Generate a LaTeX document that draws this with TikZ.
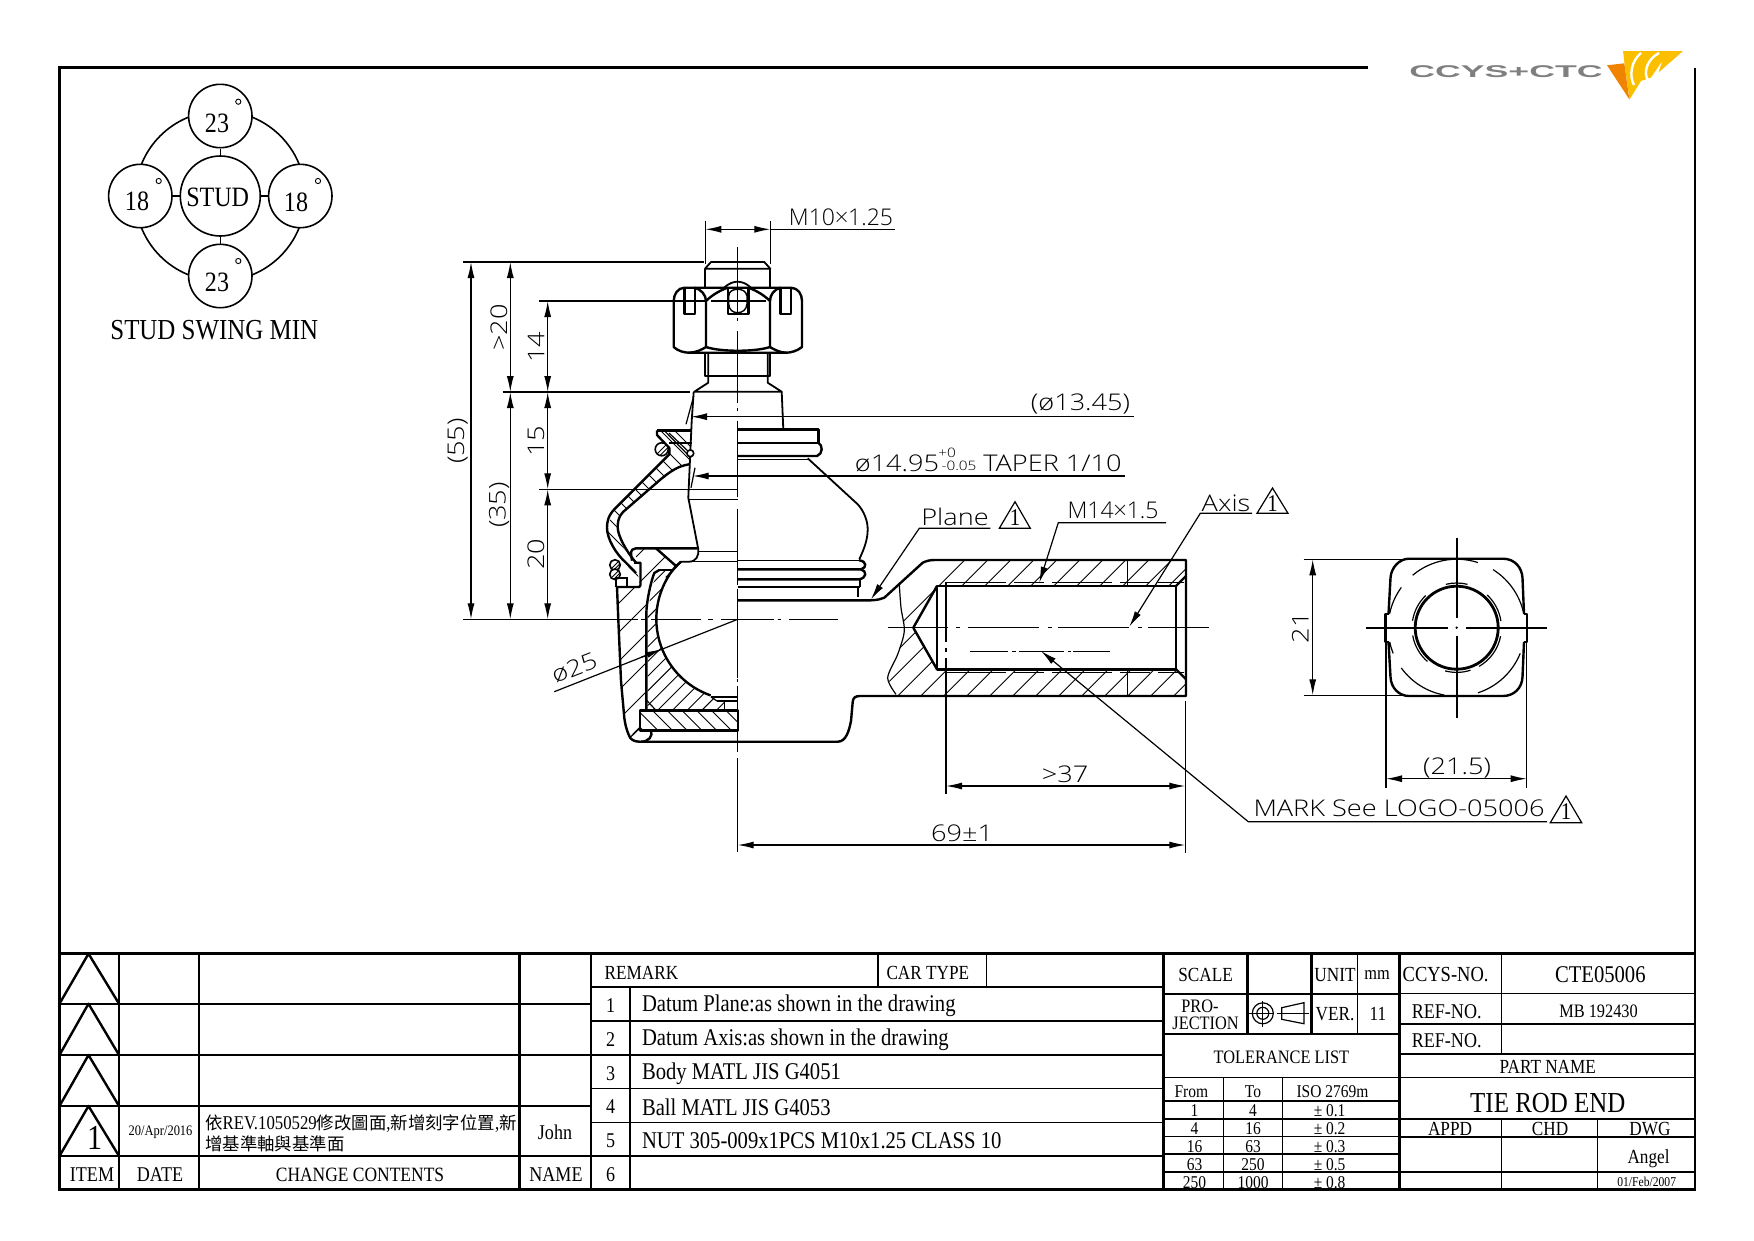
\documentclass[tikz,border=0pt]{standalone}
\usepackage{fontspec}
\usepackage{tikz}
\usetikzlibrary{
    arrows.meta,
    positioning
}
\setmainfont[FakeStretch=0.86]{Liberation Serif}
\newfontfamily\cjk{Noto Sans CJK TC}
\newfontfamily\cadfont[FakeStretch=1.18]{Open Sans Light}
\newfontfamily\cadplain{Open Sans Light}
\newfontfamily\logofont[FakeStretch=2.1]{Liberation Sans}
\newcommand{\zh}[1]{{\cjk\fontsize{17.4}{17.4}\selectfont #1}}
\definecolor{logogray}{HTML}{7F7F7F}
\definecolor{logoorange}{HTML}{F08300}
\definecolor{logoyellow}{HTML}{FBBF00}
\tikzstyle{heavy} = [line width=2.4pt, line join=round]
\tikzstyle{fine} = [line width=1.2pt]
\tikzstyle{hatch} = [line width=0.9pt]
\tikzstyle{dimline} = [
    line width=1.2pt,
    {Latex[length=16pt,width=7pt]}-{Latex[length=16pt,width=7pt]}
]
\tikzstyle{leader} = [
    line width=1.2pt,
    {Latex[length=16pt,width=7pt]}-
]

\begin{document}
\begin{tikzpicture}[
    x=1pt, y=-1pt,
    txt/.style={font=\fontsize{#1}{#1}\selectfont, inner sep=0pt},
    cad/.style={font=\cadfont\fontsize{#1}{#1}\selectfont, inner sep=0pt},
    cadn/.style={font=\cadplain\fontsize{#1}{#1}\selectfont, inner sep=0pt},
    swing/.style={circle, draw, fill=white, line width=1.6pt, inner sep=0pt, minimum size=#1}
]
\useasboundingbox (0,0) rectangle (1754,1240);
\begin{scope}[shift={(1,1)}]

% Frame
\draw[line width=2.8pt] (1367,66.7) -- (58.5,66.7) -- (58.5,1188.5) -- (1694,1188.5) -- (1694,66.7);

% Logo
\node[font=\logofont\bfseries\fontsize{17}{17}\selectfont, text=logogray, inner sep=0pt] (logotext) at (1505,70.5) {CCYS+CTC};
\fill[logoyellow] (1622,50) -- (1682,50) -- (1657.5,71.5) -- (1661.5,59.5) -- (1650,76.5) -- (1640,80) -- (1628.5,98.5) -- (1623.5,62.5) -- cycle;
\fill[logoorange] (1606,64.3) -- (1623.3,62.3) -- (1628.3,98.3) -- cycle;
\draw[white, line width=2.4pt] (1640,52) .. controls (1630,60) and (1628,75) .. (1633,84);
\draw[white, line width=2.4pt] (1658,52) .. controls (1646,58) and (1642,72) .. (1647,79);

% Stud swing
\draw[line width=1.6pt] (219.3,195) circle[radius=85];
\node[swing=80pt] (stud) at (219.3,195) {};
\node[swing=63.4pt] (swtop) at (219.3,115) {};
\node[swing=63.4pt] (swleft) at (139.3,195) {};
\node[swing=63.4pt] (swright) at (299.3,195) {};
\node[swing=63.4pt] (swbot) at (219.3,275) {};
\foreach \a in {swtop,swleft,swright,swbot}
    \draw[line width=1.6pt] (stud) -- (\a);
\node[txt=28] (studtxt) at (216.7,196.7) {STUD};
\node[txt=28] (degtop) at (216,122) {23};
\node[txt=28] (degbot) at (216,281) {23};
\node[txt=28] (degleft) at (136,200) {18};
\node[txt=28] (degright) at (295,201) {18};
\foreach \p in {(237.3,100.7),(157.7,180),(317,180),(237.3,260)}
    \draw[line width=0.9pt] \p circle[radius=2.6];
\node[txt=29] (swingtxt) at (213.3,329) {STUD SWING MIN};

% Hatching first, outlines go on top of it
\begin{scope}
    \clip (898.3,583.3) -- (900,606.7) -- (903.3,630) -- (896.7,653.3) -- (886.7,676.7) -- (895,695)
        -- (1185,695) -- (1185,559) -- (933.3,559) -- (921.7,561.7) -- cycle;
    \foreach \x in {827.7,850.7,...,1190}
        \draw[hatch] (\x,695) -- ++(140,-140);
\end{scope}
\fill[white] (912.3,626.7) -- (936,585) -- (1175,585) -- (1185,575) -- (1185,678.3) -- (1175,668.3) -- (936,668.3) -- cycle;
\begin{scope}
    \clip (616,586) -- (638.3,586) -- (638.3,562) -- (631,548) -- (655,548) -- (675,565) -- (658,569) -- (650,585)
        -- (645.3,613) -- (645.3,708) -- (639,709.3) -- (639,729.3) -- (628.3,735) -- (623.3,716.7) -- (620,680) -- (617.3,618.3) -- cycle;
    \foreach \c in {1191,1220,...,1392}
        \draw[hatch] (600,\c-600) -- (700,\c-700);
\end{scope}
\begin{scope}
    \clip (646.7,708) -- (646.7,613) -- (651,585) -- (658.3,569) -- (671,569) -- (675,565)
        arc[start angle=220.8, end angle=109.2, radius=81] -- (723,700) -- (723,709) -- cycle;
    \foreach \c in {1219,1233.7,...,1430}
        \draw[hatch] (620,\c-620) -- (740,\c-740);
\end{scope}
\begin{scope}
    \clip (639,709.3) rectangle (736.7,729.3);
    \foreach \x in {622,636.7,...,740}
        \draw[hatch] (\x,709.3) -- ++(20,20);
\end{scope}
\begin{scope}
    \clip (656,429.3) -- (690.7,429.3) -- (688.3,463.3) -- (671.7,470) -- (620,513.3) -- (616.7,526.7) -- (620,543.3)
        -- (635,561.7) -- (639,585) -- (625,561.7) -- (610,545) -- (606,526.7) -- (613.3,508.3) -- (668.3,453.3)
        -- (668.3,441.7) -- (656,432) -- cycle;
    \foreach \c in {-50,-36,...,250}
        \draw[hatch] (\c+400,400) -- (\c+600,600);
\end{scope}

% Nut and thread
\draw[heavy, line width=1.8pt] (704,267.7) -- (710,261) -- (763.3,261) -- (769.3,267.7) -- cycle;
\draw[heavy, line width=1.8pt] (704,267.7) -- (704,286.7) (769.3,267.7) -- (769.3,286.7);
\draw[heavy] (683.3,286.7) -- (790,286.7)
    .. controls (797,287) and (801,293) .. (801,300) -- (801,346)
    .. controls (796,350) and (790,351.7) .. (785,351.7) -- (688.3,351.7)
    .. controls (683,351.7) and (677,350) .. (672.7,346) -- (672.7,300)
    .. controls (672.7,293) and (677,287) .. (683.3,286.7);
\draw[heavy] (693.3,286.7) .. controls (700,288) and (705,294) .. (705,300) -- (705,346)
    .. controls (702,348) and (695,351.7) .. (688.3,351.7);
\draw[heavy] (780,286.7) .. controls (773,288) and (769,294) .. (769,300) -- (769,346)
    .. controls (772,348) and (779,351.7) .. (785,351.7);
\draw[heavy] (705,346) .. controls (720,351) and (754,351) .. (769,346);
\draw[heavy] (705,300) .. controls (712,293) and (722,288) .. (727,286.7);
\draw[heavy] (769,300) .. controls (762,293) and (752,288) .. (747,286.7);
\draw[heavy] (683.3,286.7) -- (683.3,312.7) -- (694,312.7) -- (694,286.7);
\draw[heavy] (779.3,286.7) -- (779.3,312.7) -- (790,312.7) -- (790,286.7);
\draw[heavy] (726.7,286.7) -- (726.7,312.7) -- (747.3,312.7) -- (747.3,286.7);
\draw[heavy, line width=1.8pt] (723,286.7) .. controls (728,282) and (733,280.7) .. (736.7,280.7) .. controls (740,280.7) and (745,282) .. (750,286.7);
\draw[heavy, line width=1.4pt] (727.7,295) -- (727.7,303) .. controls (728,309) and (732,311.7) .. (736.7,311.7)
    .. controls (741,311.7) and (745.5,309) .. (746,303) -- (746,295) .. controls (745,290) and (741,288.3) .. (736.7,288.3) .. controls (732,288.3) and (728,290) .. (727.7,295);
\draw[heavy, line width=1.8pt] (704,351.7) -- (704,375) -- (769.3,375) -- (769.3,351.7);
\draw[heavy, line width=1.8pt] (707.3,353) -- (707.3,381.7) -- (693.3,390.7) -- (780.7,390.7) -- (766.7,381.7) -- (766.7,353);
\draw[heavy, line width=1.8pt] (780.7,390.7) -- (782.3,428.3);

% Stud, left half
\draw[heavy, line width=1.8pt] (692.7,390.7) -- (690.7,420) -- (687.3,496.7) -- (697.3,548.3)
    .. controls (698,555) and (695,560.7) .. (688,560.7) -- (680,560.7) -- (665,576.7);
\draw[fine] (687.3,498.3) -- (736.7,498.3);
\draw[fine] (698.3,550.7) -- (736.7,550.7);
\draw[fine] (680,560.7) -- (736.7,560.7);

% Boot, left half
\draw[heavy] (656,429.3) -- (690.7,429.3);
\draw[heavy] (656,429.3) -- (656,434) -- (668.3,447) -- (668.3,453.3)
    -- (613.3,508.3) .. controls (607,515) and (606,521) .. (606,526.7)
    .. controls (606,538) and (615,553) .. (625,561.7) -- (635,572);
\draw[heavy] (668.3,441.7) -- (690.7,441.7);
\draw[fine] (668,432) -- (689,452);
\draw[fine] (663,429.3) -- (690,457);
\draw[heavy] (688.3,463.3) .. controls (677,465) and (670,470) .. (660,478) -- (622,511)
    .. controls (617,516) and (616.7,522) .. (616.7,526.7) .. controls (617,535) and (625,550) .. (635,561.7);
\draw[line width=1.6pt, fill=white] (689.3,452.3) circle[radius=3.4];
\foreach \cx/\cy/\r in {660.7/448.3/6.5, 614/564/5.3, 614/573.3/5.3} {
    \draw[line width=1.6pt, fill=white] (\cx,\cy) circle[radius=\r];
    \draw[hatch] (\cx-0.7*\r,\cy+0.7*\r) -- (\cx+0.7*\r,\cy-0.7*\r);
    \draw[hatch] (\cx-0.2*\r,\cy+0.9*\r) -- (\cx+0.9*\r,\cy-0.2*\r);
}

% Boot, right half
\draw[heavy] (736.7,428.3) -- (817.3,428.3) -- (817.3,441.7) -- (736.7,441.7);
\draw[heavy] (817.3,441.7) .. controls (822,444) and (822,453) .. (816,455) -- (736.7,455);
\draw[fine] (736.7,458.3) -- (806.7,458.3);
\draw[heavy, line width=1.8pt] (806.7,457.3) -- (856.7,503.3) .. controls (863,510) and (866.7,520) .. (866.7,528.3)
    .. controls (866.7,540) and (862,550) .. (858.3,558.3);
\draw[fine] (736.7,559.3) -- (858,559.3);
\draw[heavy] (858,559.3) .. controls (866,560) and (866,567) .. (860,568.3) -- (736.7,568.3);
\draw[heavy] (860,568.3) .. controls (866,570) and (866,577) .. (858,578.3) -- (736.7,578.3);
\draw[heavy] (736.7,585.7) -- (859,585.7);
\draw[heavy] (859,578.3) -- (859,586);
\draw[heavy] (856.7,585.7) -- (856.7,596);

% Body outline
\draw[heavy] (736.7,599.3) -- (853,599.3) -- (870,599.3) .. controls (877,599) and (880,598) .. (883.3,596.7) -- (921.7,561.7)
    .. controls (925,560) and (929,559) .. (933.3,559) -- (1185,559) -- (1185,695) -- (859,695)
    .. controls (854,695) and (852,697) .. (851.7,701) -- (850,720) .. controls (848,730) and (845,740.7) .. (836.7,740.7)
    -- (638.3,740.7) .. controls (633,740.7) and (629,738) .. (628.3,735) .. controls (625,728) and (624,722) .. (623.3,716.7)
    -- (620,680) -- (617.3,618.3) -- (616,586);
\draw[heavy] (615,586) -- (638.3,586) -- (639.5,584) -- (639.5,561.7) -- (633,561.7);
\draw[heavy] (615,586) -- (615,577);
\draw[fine] (626,586) -- (626,577) -- (615,577);
\draw[heavy] (631,559.7) -- (630,553) .. controls (630,549) and (632,547.3) .. (635,547.3) -- (696.7,547.3);
\draw[heavy] (655,547.3) -- (675,565) -- (680,560.7);
\draw[heavy] (675,565) arc[start angle=220.8, end angle=109.2, radius=81];
\draw[heavy] (658.3,569) -- (671.7,569);
\draw[heavy] (645.3,708.3) -- (645.3,613) .. controls (645.5,600) and (650,580) .. (653.3,572) -- (658.3,569);
\draw[heavy] (710,696) -- (736.7,696);
\draw[heavy] (716,700) -- (736.7,700);
\draw[fine] (723.3,700) -- (723.3,709.3);
\draw[fine] (710,696) -- (716,700);
\draw[heavy, fill=none] (639,709.3) rectangle (736.7,729.3);
\draw[fine] (645.3,699) -- (655,709.3);
\draw[heavy] (650,729.3) .. controls (652,735) and (648,740.7) .. (640,740.7);
\draw[fine] (628.5,737) -- (639,727);

% Threaded bore
\draw[heavy] (936,585) -- (1175,585) -- (1175,668.3) -- (936,668.3) -- cycle;
\draw[heavy] (936,585) -- (912.3,626.7) -- (936,668.3);
\draw[heavy] (1175,585) -- (1185,575);
\draw[heavy] (1175,668.3) -- (1185,678.3);
\draw[fine, dash pattern=on 60pt off 8pt on 30pt off 8pt] (945,581.7) -- (1183,581.7);
\draw[fine, dash pattern=on 60pt off 8pt on 30pt off 8pt] (945,671.7) -- (1183,671.7);
\draw[hatch] (1126.7,559) -- (1126.7,585) (1126.7,668.3) -- (1126.7,695);
\draw[fine] plot[smooth] coordinates {(898.3,583.3) (900,606.7) (903.3,630) (896.7,653.3) (886.7,676.7) (895,693.3)};
\draw[fine, dash pattern=on 60pt off 6pt on 4pt off 6pt] (945,581) -- (945,693);

% Center lines
\draw[fine] (736.7,246) -- (736.7,313) (736.7,316.5) -- (736.7,319.5) (736.7,330) -- (736.7,401.7) (736.7,406.5) -- (736.7,409.5) (736.7,420) -- (736.7,496)
    (736.7,508) -- (736.7,584) (736.7,588) -- (736.7,677) (736.7,677.5) -- (736.7,680.5) (736.7,685) -- (736.7,751) (736.7,757) -- (736.7,851);
\draw[fine] (462,618.3) -- (637,618.3) (640,618.3) -- (645,618.3) (650,618.3) -- (700,618.3) (707,618.3) -- (712,618.3) (720,618.3) -- (773,618.3) (776.5,618.3) -- (779.5,618.3) (788,618.3) -- (836.7,618.3);
\draw[fine, line width=1.4pt] (886.7,626.7) -- (947,626.7) (955,626.7) -- (959,626.7) (966.7,626.7) -- (1038,626.7) (1047,626.7) -- (1050.5,626.7)
    (1056.7,626.7) -- (1128,626.7) (1137,626.7) -- (1140.5,626.7) (1146.7,626.7) -- (1208.3,626.7);
\draw[line width=1pt] (969.3,650) -- (1006.7,650) (1011,650) -- (1015,650) (1018,650) -- (1063,650) (1067,650) -- (1070,650) (1072,650) -- (1109.3,650);

% Witness lines
\draw[fine] (461.7,261) -- (703.3,261);
\draw[fine] (538.3,300) -- (705,300) (710,300) -- (765,300);
\draw[fine] (501.7,391) -- (689.3,391);
\draw[fine] (538.3,488.3) -- (736.7,488.3);
\draw[fine] (704.3,220) -- (704.3,263) (769.3,220) -- (769.3,263);
\draw[fine] (692.7,395) -- (685,423.3);
\draw[fine] (694,466.7) -- (690,486.7);
\draw[fine] (945,693) -- (945,793.3);
\draw[fine] (1184.3,700) -- (1184.3,851.7);

% Dimensions
\draw[dimline] (470,261) -- (470,618.3);
\draw[dimline] (509.3,261) -- (509.3,391);
\draw[dimline] (509.3,391) -- (509.3,618.3);
\draw[dimline] (546.7,300) -- (546.7,391);
\draw[dimline] (546.7,391) -- (546.7,488.3);
\draw[dimline] (546.7,488.3) -- (546.7,618.3);
\draw[dimline] (704.3,228.3) -- (769.3,228.3);
\draw[fine] (769.3,228.3) -- (894,228.3);
\draw[dimline] (945,785) -- (1184.3,785);
\draw[dimline] (736.7,844) -- (1184.3,844);
\draw[dimline] (1311.7,558.3) -- (1311.7,694.3);
\draw[dimline] (1385,777.7) -- (1525.7,777.7);
\draw[leader] (690,415.7) -- (1133,415.7);
\draw[leader] (691.7,475) -- (1124,475);

\node[cad=23, rotate=90] (dimtotal) at (456.7,440) {(55)};
\node[cad=23, rotate=90] (dimfree) at (498,326.7) {>20};
\node[cad=23, rotate=90] (dimball) at (498,504) {(35)};
\node[cad=23, rotate=90] (dimnut) at (535,346) {14};
\node[cad=23, rotate=90] (dimtaper) at (535,440) {15};
\node[cad=23, rotate=90] (dimboot) at (535,553) {20};
\node[cadn=23] (stubthread) at (840,216) {M10×1.25};
\node[cad=23] (neckdia) at (1079.5,403) {(ø13.45)};
\node[cad=23] (taperdia) at (896,462) {ø14.95};
\node[cad=13] (taperup) at (946,452) {+0};
\node[cad=13] (taperlow) at (958,465) {-0.05};
\node[cad=23] (tapertxt) at (1051.5,462) {TAPER 1/10};
\node[cad=23] (depth) at (1064,773) {>37};
\node[cad=23] (length) at (961,832) {69±1};
\node[cad=23, rotate=90] (height) at (1299.3,626.7) {21};
\node[cad=23] (width) at (1456,766.7) {(21.5)};

% Ball diameter
\draw[fine] (736.7,618.3) -- (553.3,690.7);
\draw[fine, -{Latex[length=16pt,width=6pt]}] (640,656.4) -- (661.3,648);
\node[cad=23, rotate=21.5] (balldia) at (573.3,666.7) {ø25};

% Datum leaders
\draw[leader] (870,598.3) -- (918.3,527.3) -- (989.3,527.3);
\node[cad=23] (planetxt) at (954,516) {Plane};
\draw[fine] (998.3,527.3) -- (1029.3,527.3) -- (1014,500.7) -- cycle;
\node[txt=24] (planeflag) at (1014,517) {1};
\draw[leader] (1038.3,581.7) -- (1057.3,521.7) -- (1165,521.7);
\node[cadn=23] (borethread) at (1112,509) {M14×1.5};
\draw[leader] (1128.3,625.7) -- (1199.3,512.3) -- (1251,512.3);
\node[cad=23] (axistxt) at (1225,502) {Axis};
\draw[fine] (1256,512.3) -- (1287,512.3) -- (1271.5,487) -- cycle;
\node[txt=24] (axisflag) at (1271.5,503) {1};
\draw[leader] (1040,650) -- (1247.3,820.7) -- (1546,820.7);
\node[cad=23] (marktxt) at (1398,807) {MARK See LOGO-05006};
\draw[fine] (1549.3,821.7) -- (1580.7,821.7) -- (1565,795) -- cycle;
\node[txt=24] (markflag) at (1565,811) {1};

% End view
\draw[heavy] (1408,557.7) -- (1502,557.7) .. controls (1514,557.7) and (1521,567) .. (1521.5,577) -- (1523,613)
    (1523,641) -- (1521.5,676) .. controls (1521,687) and (1513,695) .. (1502,695) -- (1408,695)
    .. controls (1398,695) and (1390,687) .. (1389.5,676) -- (1387.5,641) (1387.5,613) -- (1389.5,577)
    .. controls (1390,567) and (1398,557.7) .. (1408,557.7);
\draw[heavy] (1388,613) -- (1384.5,613) -- (1384.5,640.7) -- (1388,640.7);
\draw[heavy] (1523,613) -- (1526,613) -- (1526,640.7) -- (1523,640.7);
\draw[heavy, line width=2.8pt] (1455.7,626.7) circle[radius=41.5];
\foreach \a/\b in {14/58, 72/130, 144/168, 192/202, 216/259.5, 288/338}
    \draw[fine] (1455.7,626.7) ++(-\a:68.5) arc[start angle=-\a, end angle=-\b, radius=68.5];
\foreach \a/\b in {8.5/47, 76/104, 134/171, 190/229, 255/288, 300/349}
    \draw[fine] (1455.7,626.7) ++(-\a:44.7) arc[start angle=-\a, end angle=-\b, radius=44.7];
\draw[fine, line width=1.6pt] (1365,626.7) -- (1446.7,626.7) (1465,626.7) -- (1546,626.7);
\draw[fine, line width=1.6pt] (1455.7,536.7) -- (1455.7,616.7) (1455.7,635) -- (1455.7,716.7);
\fill (1455.7,626.7) circle[radius=1.3];
\draw[fine] (1302.7,558.3) -- (1407,558.3) (1302.7,694.3) -- (1407,694.3);
\draw[fine] (1385,641.7) -- (1385,786.7) (1525.7,641.7) -- (1525.7,786.7);

% Title block, left table
\draw[line width=2.8pt] (58.5,952.7) -- (1694,952.7);
\foreach \y in {1002.7,1054,1105,1155}
    \draw[heavy] (58.5,\y) -- (590,\y);
\foreach \x in {118,198,518.6,590}
    \draw[heavy] (\x,952.7) -- (\x,1188.5);
\foreach \a/\b in {952.7/1002.7,1002.7/1054,1054/1105,1105/1155}
    \draw[heavy] (58.5,\b) -- (87.5,\a) -- (118,\b);
\node[txt=35] (rev) at (93.6,1137) {1};
\node[txt=14.5] (revdate) at (159.6,1131.7) {20/Apr/2016};
\node[txt=19.5, anchor=west] (revline) at (204,1122.5) {\zh{依}REV.1050529\zh{修改圖面},\zh{新增刻字位置},\zh{新}};
\node[txt=17.4, anchor=west] (revlineb) at (204,1143) {\zh{增基準軸與基準面}};
\node[txt=21] (revname) at (554,1131.7) {John};
\node[txt=21] (headitem) at (91,1174) {ITEM};
\node[txt=21] (headdate) at (159,1174) {DATE};
\node[txt=20.3] (headchange) at (359,1174) {CHANGE CONTENTS};
\node[txt=21] (headname) at (555,1174) {NAME};

% Title block, remarks
\draw[heavy] (590,986) -- (1162.6,986);
\foreach \y in {1020,1054,1087.7,1121.7,1155}
    \draw[fine] (590,\y) -- (1162.6,\y);
\draw[heavy] (628.7,986) -- (628.7,1188.5);
\draw[heavy] (876.7,952.7) -- (876.7,986);
\draw[fine] (985.8,952.7) -- (985.8,986);
\node[txt=20, anchor=west] (remark) at (603.5,972) {REMARK};
\node[txt=20, anchor=west] (cartype) at (885.3,972) {CAR TYPE};
\foreach \n/\y/\t in {1/1005/Datum Plane:as shown in the drawing,
                      2/1038.3/Datum Axis:as shown in the drawing,
                      3/1072.7/Body MATL JIS G4051,
                      4/1106/Ball MATL JIS G4053,
                      5/1140/NUT 305-009x1PCS M10x1.25 CLASS 10,
                      6/1174/} {
    \node[txt=21] (remno\n) at (609.6,\y) {\n};
    \node[txt=24, anchor=west] (remtxt\n) at (640.8,\y) {\t};
}

% Title block, scale and tolerance
\draw[heavy] (1162.6,952.7) -- (1162.6,1188.5);
\draw[heavy] (1398.6,952.7) -- (1398.6,1188.5);
\draw[heavy] (1162.6,992.7) -- (1398.6,992.7);
\draw[heavy] (1162.6,1032.7) -- (1398.6,1032.7);
\draw[fine] (1162.6,1076.7) -- (1398.6,1076.7);
\draw[heavy] (1246.4,952.7) -- (1246.4,1032.7);
\draw[heavy] (1310.4,952.7) -- (1310.4,1032.7);
\draw[fine] (1356.4,952.7) -- (1356.4,1032.7);
\foreach \y in {1100,1118,1135.7,1153,1171}
    \draw[fine] (1162.6,\y) -- (1398.6,\y);
\draw[fine] (1222.5,1076.7) -- (1222.5,1188.5);
\draw[fine] (1281.4,1076.7) -- (1281.4,1188.5);
\node[txt=20] (scaletxt) at (1204.6,974) {SCALE};
\node[txt=20] (unittxt) at (1334,974) {UNIT};
\node[txt=19] (mmtxt) at (1376,974) {mm};
\node[txt=19] (protxt) at (1199,1005) {PRO-};
\node[txt=19] (jecttxt) at (1204.6,1022.3) {JECTION};
\node[txt=20] (vertxt) at (1334,1013.3) {VER.};
\node[txt=20] (vernum) at (1377,1013.3) {11};
\draw[fine] (1261.8,1012.3) circle[radius=10.5];
\draw[fine] (1261.8,1012.3) circle[radius=6];
\draw[fine] (1247.5,1012.3) -- (1272.5,1012.3) (1261.8,1000) -- (1261.8,1026);
\draw[fine] (1280.7,1006.7) -- (1302.9,1001.7) -- (1302.9,1022.7) -- (1280.7,1018.3) -- cycle;
\draw[fine] (1276,1012.3) -- (1308,1012.3);
\node[txt=19] (tollist) at (1280.4,1056.7) {TOLERANCE LIST};
\node[txt=18] (tolfrom) at (1190.4,1091) {From};
\node[txt=18] (tolto) at (1252,1091) {To};
\node[txt=18] (toliso) at (1331.4,1091) {ISO 2769m};
\foreach \n/\y/\a/\b/\c in {1/1110/1/4/0.1, 2/1127.3/4/16/0.2, 3/1145.7/16/63/0.3, 4/1163.3/63/250/0.5, 5/1181.7/250/1000/0.8} {
    \node[txt=18] (tola\n) at (1193.5,\y) {\a};
    \node[txt=18] (tolb\n) at (1252,\y) {\b};
    \node[txt=18] (tolc\n) at (1328.6,\y) {± \c};
}

% Title block, part data
\draw[fine] (1398.6,992.7) -- (1694,992.7);
\draw[heavy] (1398.6,1022.7) -- (1694,1022.7);
\draw[heavy] (1398.6,1052.7) -- (1694,1052.7);
\draw[fine] (1398.6,1076.7) -- (1694,1076.7);
\draw[heavy] (1398.6,1118) -- (1694,1118);
\draw[fine] (1398.6,1136) -- (1694,1136);
\draw[fine] (1398.6,1171) -- (1694,1171);
\draw[fine] (1500.7,952.7) -- (1500.7,1052.7);
\draw[fine] (1500.7,1118) -- (1500.7,1188.5);
\draw[fine] (1596.4,1118) -- (1596.4,1188.5);
\node[txt=21.5] (ccysno) at (1444.6,974) {CCYS-NO.};
\node[txt=24] (ccysval) at (1599.3,974) {CTE05006};
\node[txt=21] (refa) at (1445.7,1010.7) {REF-NO.};
\node[txt=19] (refval) at (1597.5,1010.7) {MB 192430};
\node[txt=21] (refb) at (1445.7,1039.3) {REF-NO.};
\node[txt=20] (partname) at (1546.8,1065.7) {PART NAME};
\node[txt=29] (partval) at (1546.8,1101.7) {TIE ROD END};
\node[txt=20] (appd) at (1449,1128) {APPD};
\node[txt=20] (chd) at (1549,1128) {CHD};
\node[txt=20] (dwg) at (1649,1128) {DWG};
\node[txt=20] (angel) at (1647.5,1158) {Angel};
\node[txt=13.5] (dwgdate) at (1645.7,1180.7) {01/Feb/2007};

\end{scope}
\end{tikzpicture}
\end{document}
